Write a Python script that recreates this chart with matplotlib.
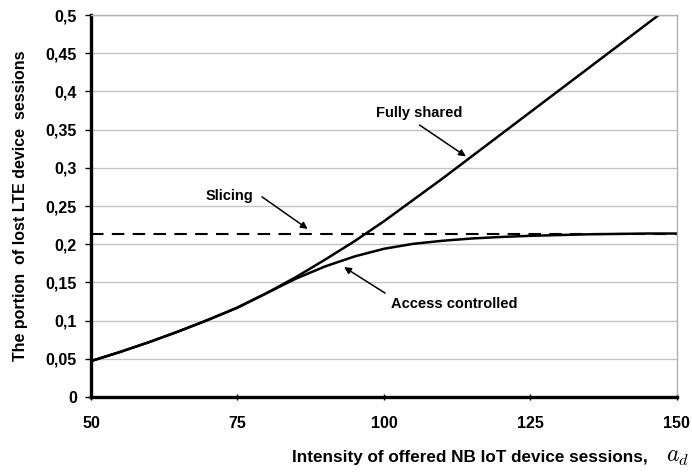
import numpy as np
import matplotlib
matplotlib.use("Agg")
import matplotlib.pyplot as plt
from matplotlib.ticker import FuncFormatter

# --- Data ---
x_load = [50, 55, 60, 65, 70, 75, 80, 85, 90, 95, 100, 105, 110, 115, 120,
          125, 130, 135, 140, 145, 150]
fully_shared = [0.047, 0.059, 0.072, 0.086, 0.101, 0.117, 0.136, 0.157, 0.180,
                0.204, 0.230, 0.258, 0.286, 0.315, 0.344, 0.373, 0.402,
                0.431, 0.460, 0.489, 0.518]
access_controlled = [0.047, 0.059, 0.072, 0.086, 0.101, 0.117, 0.136, 0.155,
                     0.171, 0.184, 0.194, 0.2005, 0.2045, 0.2075, 0.2095,
                     0.211, 0.212, 0.213, 0.2135, 0.214, 0.214]
slicing = [0.214] * len(x_load)

x_ticks = [50, 75, 100, 125, 150]
y_ticks = [0, 0.05, 0.1, 0.15, 0.2, 0.25, 0.3, 0.35, 0.4, 0.45, 0.5]

plt.rcParams['font.family'] = ['Liberation Sans', 'DejaVu Sans']
plt.rcParams['mathtext.fontset'] = 'cm'

fig = plt.figure(figsize=(6.92, 4.72), dpi=100)
ax = fig.add_axes([0.1315, 0.159, 0.8465, 0.809])

ax.plot(x_load, fully_shared, color='black', lw=1.8)
ax.plot(x_load, access_controlled, color='black', lw=1.8)
ax.plot(x_load, slicing, color='black', lw=1.5, dashes=(6, 4))

ax.set_xlim(50, 150)
ax.set_ylim(0, 0.5)
ax.set_xticks(x_ticks)
ax.set_yticks(y_ticks)

# comma decimal separator
fmt = FuncFormatter(lambda v, p: ('%g' % v).replace('.', ','))
ax.yaxis.set_major_formatter(fmt)

ax.yaxis.grid(True, color='#c4c4c4', lw=1)
ax.set_axisbelow(True)

for side in ['left', 'bottom']:
    ax.spines[side].set_linewidth(2.4)
    ax.spines[side].set_color('black')
for side in ['top', 'right']:
    ax.spines[side].set_linewidth(1.0)
    ax.spines[side].set_color('#b0b0b0')

ax.tick_params(axis='y', direction='out', length=4, width=1, pad=6)
ax.tick_params(axis='x', direction='inout', length=5, width=1, pad=11)
for lab in ax.get_xticklabels() + ax.get_yticklabels():
    lab.set_fontweight('bold')
    lab.set_fontsize(11.5)

ax.set_ylabel('The portion  of lost LTE device  sessions', fontsize=11.5,
              fontweight='bold', labelpad=13)
fig.text(0.9364, 0.022, 'Intensity of offered NB IoT device sessions,',
         ha='right', va='baseline', fontsize=12.3, fontweight='bold')
fig.text(0.963, 0.022, r'$a_d$', ha='left', va='baseline', fontsize=17)

arrow = dict(arrowstyle='-|>', color='black', lw=1.1, mutation_scale=10,
             shrinkA=0, shrinkB=0)
ax.text(106.0, 0.372, 'Fully shared', ha='center', va='center',
        fontsize=10.5, fontweight='bold')
ax.annotate('', xy=(114.0, 0.315), xytext=(106.1, 0.356), arrowprops=arrow)
ax.text(73.7, 0.263, 'Slicing', ha='center', va='center',
        fontsize=10.5, fontweight='bold')
ax.annotate('', xy=(87.0, 0.220), xytext=(79.2, 0.262), arrowprops=arrow)
ax.text(112.0, 0.122, 'Access controlled', ha='center', va='center',
        fontsize=10.5, fontweight='bold')
ax.annotate('', xy=(93.2, 0.170), xytext=(100.2, 0.136), arrowprops=arrow)

fig.savefig('out.png', dpi=100)
